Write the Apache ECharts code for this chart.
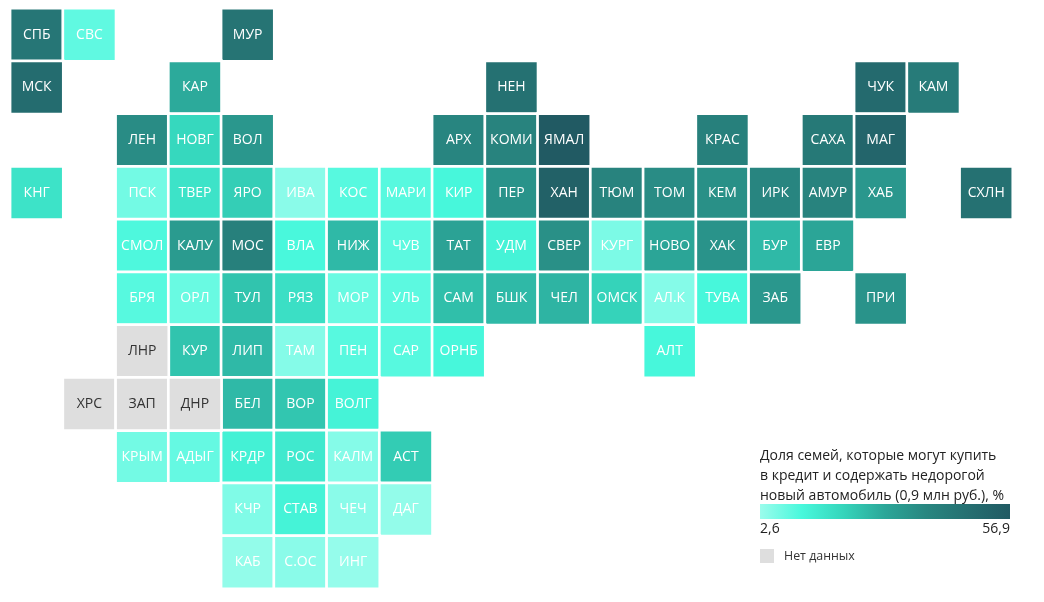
<!DOCTYPE html>
<html><head><meta charset="utf-8">
<style>html,body{margin:0;padding:0;background:#fff}#c{width:1044px;height:602px}</style>
<script src="https://cdn.jsdelivr.net/npm/echarts@6/dist/echarts.min.js"></script>
</head><body><div id="c"></div>
<script>
const columns = Array.from({length:19},(_,i)=>String(i));
const rowsAxis = Array.from({length:11},(_,i)=>String(i));
const codes = ['СПБ','СВС','МУР','МСК','КАР','НЕН','ЧУК','КАМ','ЛЕН','НОВГ','ВОЛ','АРХ','КОМИ','ЯМАЛ','КРАС','САХА','МАГ',
 'КНГ','ПСК','ТВЕР','ЯРО','ИВА','КОС','МАРИ','КИР','ПЕР','ХАН','ТЮМ','ТОМ','КЕМ','ИРК','АМУР','ХАБ','СХЛН',
 'СМОЛ','КАЛУ','МОС','ВЛА','НИЖ','ЧУВ','ТАТ','УДМ','СВЕР','КУРГ','НОВО','ХАК','БУР','ЕВР',
 'БРЯ','ОРЛ','ТУЛ','РЯЗ','МОР','УЛЬ','САМ','БШК','ЧЕЛ','ОМСК','АЛ.К','ТУВА','ЗАБ','ПРИ',
 'ЛНР','КУР','ЛИП','ТАМ','ПЕН','САР','ОРНБ','АЛТ',
 'ХРС','ЗАП','ДНР','БЕЛ','ВОР','ВОЛГ',
 'КРЫМ','АДЫГ','КРДР','РОС','КАЛМ','АСТ',
 'КЧР','СТАВ','ЧЕЧ','ДАГ','КАБ','С.ОС','ИНГ'];
const colIdx = [0,1,4,0,3,9,16,17,2,3,4,8,9,10,13,15,16,
 0,2,3,4,5,6,7,8,9,10,11,12,13,14,15,16,18,
 2,3,4,5,6,7,8,9,10,11,12,13,14,15,
 2,3,4,5,6,7,8,9,10,11,12,13,14,16,
 2,3,4,5,6,7,8,12,
 1,2,3,4,5,6,
 2,3,4,5,6,7,
 4,5,6,7,4,5,6];
const rowIdx = [0,0,0,1,1,1,1,1,2,2,2,2,2,2,2,2,2,
 3,3,3,3,3,3,3,3,3,3,3,3,3,3,3,3,3,
 4,4,4,4,4,4,4,4,4,4,4,4,4,4,
 5,5,5,5,5,5,5,5,5,5,5,5,5,5,
 6,6,6,6,6,6,6,6,
 7,7,7,7,7,7,
 8,8,8,8,8,8,
 9,9,9,9,10,10,10];
const shares = [45,9,46,49,29,47,50,43,37,20,34,39,40,56.9,41,44,52,
 17,7,17,22,4.5,10,10,12,35,54,40,37,36,39,40,34,47,
 11,33,41,11.5,26,9.5,31,13,36,6,30,35,26,30,
 10,8,24,18,8,9.5,25,26,27,21,5,12,34,35,
 null,24,26,5,10,10,12,12,
 null,null,null,26,23.5,13,
 7,8.5,13.5,15.5,5,22.5,
 5.5,13,4.5,3.5,3.5,4.5,3.2];
const minValue = 2.6, maxValue = 56.9;
const minLabel = '2,6', maxLabel = '56,9';
const rampColors = ['#9bfcec','#48f8dc','#35d5bb','#2ba698','#288680','#256f71','#215a63'];
const titleLines = 'Доля семей, которые могут купить\nв кредит и содержать недорогой\nновый автомобиль (0,9 млн руб.), %';
const noDataName = 'Нет данных';

const FONT = '"Open Sans", sans-serif';
const withData = [], noData = [];
codes.forEach((c,i)=>{
  if (shares[i] === null) noData.push({value:[colIdx[i],rowIdx[i],0],code:c});
  else withData.push({value:[colIdx[i],rowIdx[i],shares[i]],code:c});
});
const cellLabel = color => ({show:true,formatter:p=>p.data.code,color,fontSize:14,fontFamily:FONT});
const chart = echarts.init(document.getElementById('c'),null,{renderer:'canvas'});
chart.setOption({
  animation:false,
  backgroundColor:'#fff',
  grid:{left:10.3,top:8.3,width:1002.25,height:580.25},
  xAxis:{type:'category',data:columns,show:false},
  yAxis:{type:'category',data:rowsAxis,inverse:true,show:false},
  visualMap:{type:'continuous',show:false,seriesIndex:0,dimension:2,min:minValue,max:maxValue,
    inRange:{color:rampColors}},
  legend:{data:[noDataName],left:760,top:549,padding:0,itemWidth:14,itemHeight:14,itemGap:0,
    icon:'rect',itemStyle:{borderWidth:0},
    textStyle:{fontFamily:FONT,fontSize:12.4,color:'#333',padding:[1,0,0,5]},selectedMode:false},
  series:[
    {type:'heatmap',name:'Доля семей',data:withData,label:cellLabel('#fff'),
      itemStyle:{borderColor:'#fff',borderWidth:2.7},emphasis:{disabled:true}},
    {type:'heatmap',name:noDataName,data:noData,label:cellLabel('#333'),
      itemStyle:{color:'#dedede',borderColor:'#fff',borderWidth:2.7},emphasis:{disabled:true}}
  ],
  graphic:[
    {type:'rect',left:760,top:504,shape:{width:250,height:15},silent:true,
      style:{fill:new echarts.graphic.LinearGradient(0,0,1,0,
        rampColors.map((color,i)=>({offset:i/(rampColors.length-1),color})))}},
    {type:'text',left:760,top:446,style:{text:titleLines,fontFamily:FONT,fontSize:14,lineHeight:20,fill:'#222'}},
    {type:'text',left:760,top:522,style:{text:minLabel,fontFamily:FONT,fontSize:14,fill:'#222'}},
    {type:'text',right:34,top:522,style:{text:maxLabel,fontFamily:FONT,fontSize:14,fill:'#222'}}
  ]
});
</script></body></html>
